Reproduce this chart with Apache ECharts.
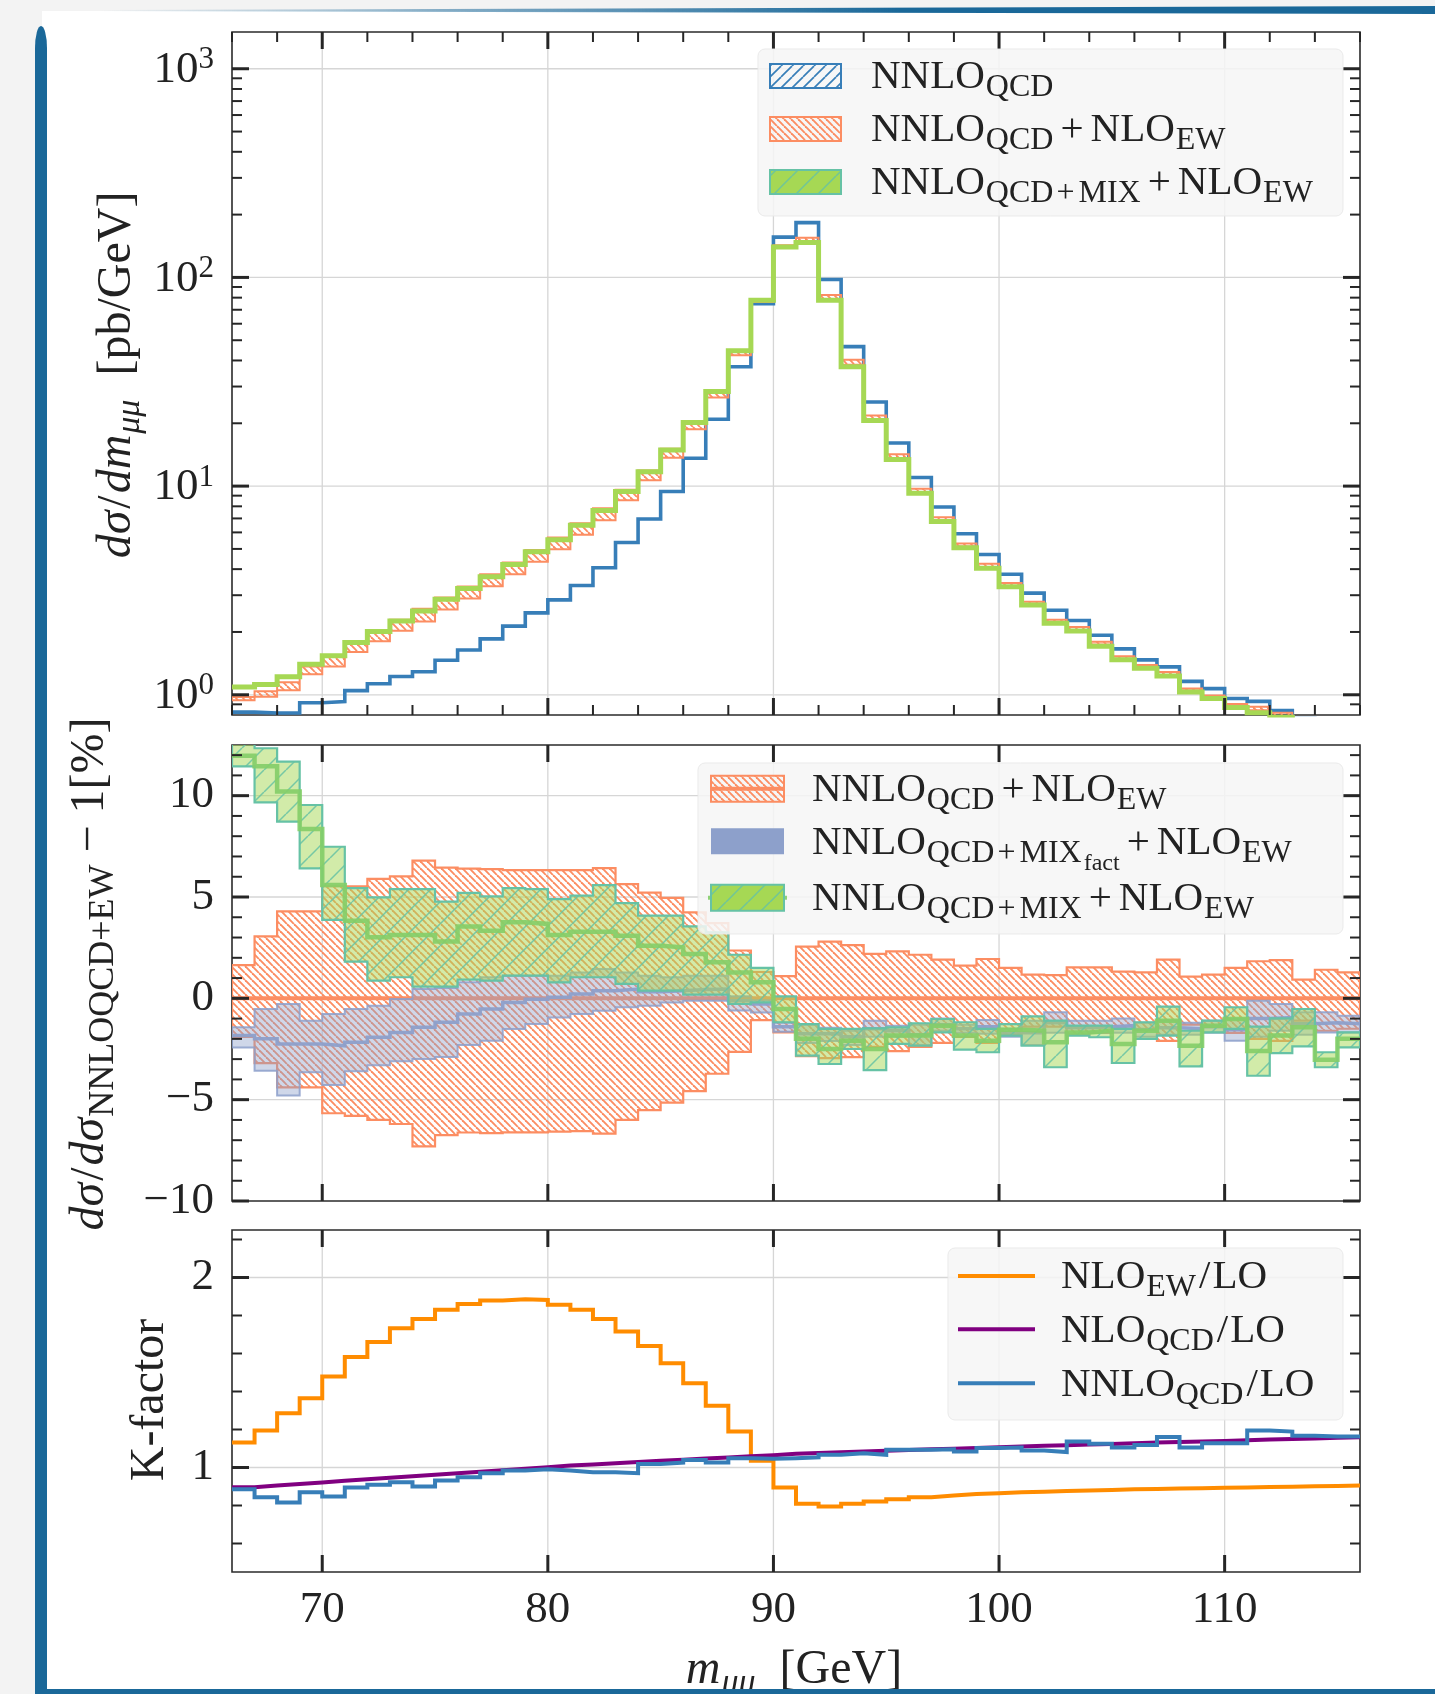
<!DOCTYPE html>
<html lang="en">
<head>
<meta charset="utf-8">
<title>Drell–Yan dimuon invariant-mass distribution</title>
<script src="https://cdn.jsdelivr.net/npm/echarts@6/dist/echarts.min.js"></script>
<style>
  html, body { margin: 0; padding: 0; background: #f3f3f3; }
  #page { position: relative; width: 1435px; height: 1694px; overflow: hidden; }
  #card { position: absolute; left: 42px; top: 11px; right: 0; bottom: 0; background: #ffffff; }
  #chart { position: absolute; left: 0; top: 0; width: 1435px; height: 1694px; }
  .deco { position: absolute; pointer-events: none; }
  #topRule { left: 100px; top: 5px; width: 1335px; height: 10px;
    background: linear-gradient(to right, rgba(26,104,153,0) 0%, rgba(26,104,153,0.5) 25%, #1a6899 60%, #1a6899 100%);
    clip-path: polygon(0 50%, 100% 10%, 100% 90%, 0 62%); }
  #leftRule { left: 35px; top: 26px; width: 12px; bottom: 0; background: #1a6899; border-radius: 6px 6px 0 0 / 22px 22px 0 0; }
  #bottomRule { left: 35px; right: 0; bottom: 0; height: 5px; background: #1a6899; }
</style>
</head>
<body>
<div id="page">
  <div id="card"></div>
  <div id="chart"></div>
  <div class="deco" id="topRule"></div>
  <div class="deco" id="leftRule"></div>
  <div class="deco" id="bottomRule"></div>
</div>
<script>
// ---------------------------------------------------------------------------
// Binning: 1 GeV bins in the dimuon invariant mass m_mumu [GeV]
// ---------------------------------------------------------------------------
const binEdges = [66, 67, 68, 69, 70, 71, 72, 73, 74, 75, 76, 77, 78, 79, 80, 81, 82,
  83, 84, 85, 86, 87, 88, 89, 90, 91, 92, 93, 94, 95, 96, 97, 98, 99, 100, 101, 102,
  103, 104, 105, 106, 107, 108, 109, 110, 111, 112, 113, 114, 115, 116];

// Top panel: dsigma/dm [pb/GeV]
const nnloQcd = [0.826, 0.818, 0.818, 0.916, 0.927, 1.047, 1.13, 1.224, 1.29, 1.464,
  1.64, 1.853, 2.133, 2.47, 2.85, 3.34, 4.06, 5.37, 6.95, 9.42,
  13.6, 20.9, 37.3, 74.8, 156, 183, 97.8, 46.6, 25.3, 16.1,
  11.0, 7.94, 5.91, 4.70, 3.78, 3.07, 2.54, 2.27, 1.93, 1.66,
  1.47, 1.36, 1.16, 1.07, 0.96, 0.93, 0.84, 0.77, 0.72, 0.68];
const nnloQcdEw = [0.96, 1.01, 1.10, 1.31, 1.45, 1.70, 1.92, 2.16, 2.42, 2.75,
  3.10, 3.55, 4.05, 4.65, 5.33, 6.25, 7.35, 9.10, 11.3, 14.4,
  19.6, 27.6, 43.5, 77.0, 141, 151, 80.2, 39.3, 21.3, 13.9,
  9.5, 6.96, 5.23, 4.16, 3.38, 2.76, 2.26, 2.08, 1.77, 1.51,
  1.37, 1.26, 1.06, 0.98, 0.89, 0.86, 0.805, 0.76, 0.72, 0.68];
const nnloMixEw = [1.09, 1.12, 1.22, 1.40, 1.54, 1.78, 2.01, 2.26, 2.52, 2.87,
  3.23, 3.68, 4.21, 4.84, 5.53, 6.50, 7.65, 9.43, 11.7, 14.9,
  20.2, 28.4, 44.5, 77.8, 140, 147, 77.8, 37.3, 20.6, 13.4,
  9.25, 6.77, 5.07, 4.04, 3.29, 2.69, 2.20, 2.02, 1.71, 1.47,
  1.34, 1.23, 1.03, 0.96, 0.87, 0.82, 0.78, 0.74, 0.70, 0.66];

// Middle panel: ratio to NNLO_QCD+NLO_EW central value, minus one [%]
const ewScaleUp = [1.64, 3.06, 4.29, 4.29, 5.53, 5.53, 5.89, 6.02, 6.79, 6.45,
  6.40, 6.38, 6.33, 6.33, 6.33, 6.33, 6.42, 5.64, 5.22, 4.96,
  4.24, 3.71, 2.36, 1.30, 1.10, 2.55, 2.80, 2.63, 2.19, 2.32,
  2.15, 1.91, 1.61, 1.94, 1.50, 1.17, 1.15, 1.53, 1.53, 1.32,
  1.28, 1.91, 1.07, 1.17, 1.50, 1.83, 1.89, 0.92, 1.41, 1.28];
const ewScaleDown = [-1.9, -3.2, -4.39, -4.39, -5.67, -5.80, -6.00, -6.20, -7.30, -6.75,
  -6.62, -6.65, -6.61, -6.61, -6.58, -6.55, -6.68, -6.00, -5.52, -5.15,
  -4.58, -3.72, -2.64, -1.08, -1.68, -2.85, -2.95, -2.90, -2.40, -2.60,
  -2.40, -2.20, -1.90, -2.20, -1.80, -1.40, -1.40, -1.80, -1.70, -1.50,
  -1.50, -2.10, -1.30, -1.40, -1.70, -2.00, -2.10, -1.10, -1.60, -1.50];
const mixFactUp = [-1.43, -0.53, -0.28, -1.10, -0.77, -0.53, -0.36, -0.03, 0.46, 0.51,
  0.79, 1.04, 1.12, 1.12, 1.12, 1.28, 1.45, 1.28, 1.12, 1.04,
  1.12, 1.12, 0.10, -0.10, -1.20, -1.30, -1.45, -1.60, -1.10, -1.35,
  -1.30, -1.00, -1.30, -1.07, -1.50, -1.10, -0.69, -1.10, -1.10, -1.00,
  -1.20, -1.10, -1.20, -1.10, -1.02, -0.12, -0.28, -0.69, -0.69, -0.86];
const mixFactDown = [-2.42, -3.57, -4.80, -3.65, -4.28, -3.60, -3.30, -3.10, -2.99, -2.90,
  -2.30, -2.09, -1.51, -1.27, -0.94, -0.77, -0.61, -0.44, -0.36, -0.20,
  -0.12, -0.12, -0.60, -0.70, -1.65, -2.20, -2.10, -2.30, -1.90, -1.90,
  -2.30, -1.60, -1.70, -1.75, -1.90, -2.30, -1.70, -1.80, -1.70, -1.70,
  -1.90, -1.80, -1.80, -1.70, -2.09, -1.90, -1.60, -1.80, -1.68, -1.68];
const mixFactCentral = [-1.84, -2.00, -2.25, -2.25, -2.34, -2.17, -1.92, -1.68, -1.43, -1.18,
  -0.77, -0.53, -0.20, -0.05, 0.05, 0.21, 0.38, 0.46, 0.33, 0.38,
  0.43, 0.46, -0.12, -0.28, -1.40, -1.75, -1.75, -1.90, -1.50, -1.60,
  -1.80, -1.30, -1.50, -1.40, -1.70, -1.70, -1.20, -1.45, -1.40, -1.35,
  -1.55, -1.45, -1.50, -1.40, -1.55, -1.00, -0.95, -1.25, -1.20, -1.25];
const mixUp = [13.3, 12.34, 11.68, 9.54, 7.48, 5.44, 4.98, 5.39, 5.39, 4.77,
  5.20, 5.03, 5.44, 5.39, 4.90, 5.07, 5.59, 4.70, 4.08, 4.08,
  3.55, 3.26, 2.15, 1.50, 0.10, -1.27, -1.51, -1.51, -1.48, -1.43,
  -1.23, -1.02, -1.18, -1.51, -1.27, -0.89, -1.10, -1.35, -1.35, -1.51,
  -1.18, -0.41, -1.60, -1.10, -0.44, -1.40, -0.99, -0.53, -2.66, -1.68];
const mixDown = [11.45, 9.67, 8.72, 6.41, 3.87, 1.81, 0.87, 1.04, 0.58, 0.58,
  0.92, 0.87, 1.12, 1.12, 0.79, 1.04, 1.04, 0.71, 0.38, 0.38,
  0.18, 0.18, -0.28, -0.20, -1.18, -2.83, -3.24, -2.50, -3.54, -2.25,
  -2.34, -1.68, -2.53, -2.66, -1.84, -2.34, -3.40, -1.84, -1.92, -3.19,
  -2.00, -1.84, -3.36, -1.68, -1.51, -3.82, -2.70, -2.37, -3.40, -2.42];
const mixCentral = [11.97, 11.45, 10.20, 8.36, 5.59, 3.83, 3.01, 3.12, 3.12, 2.80,
  3.55, 3.34, 3.75, 3.67, 3.12, 3.29, 3.29, 3.09, 2.60, 2.52,
  2.19, 1.78, 1.28, 0.79, -0.53, -2.00, -2.50, -2.09, -2.50, -1.84,
  -1.84, -1.35, -1.84, -2.09, -1.55, -1.60, -2.17, -1.68, -1.60, -2.25,
  -1.60, -1.10, -2.34, -1.35, -1.02, -2.60, -1.84, -1.43, -3.03, -2.00];

// Bottom panel: K-factors
const kEw = [1.132, 1.195, 1.286, 1.365, 1.479, 1.581, 1.660, 1.733, 1.782, 1.830,
  1.860, 1.879, 1.886, 1.882, 1.856, 1.830, 1.781, 1.716, 1.640, 1.549,
  1.444, 1.325, 1.189, 1.035, 0.895, 0.809, 0.795, 0.809, 0.821, 0.833,
  0.844, 0.853, 0.860, 0.865, 0.870, 0.873, 0.876, 0.879, 0.882, 0.885,
  0.887, 0.889, 0.891, 0.893, 0.895, 0.897, 0.899, 0.901, 0.903, 0.905];
const kQcd = [0.896, 0.905, 0.913, 0.921, 0.930, 0.938, 0.946, 0.954, 0.962, 0.970,
  0.977, 0.985, 0.993, 1.002, 1.010, 1.016, 1.022, 1.029, 1.035, 1.041,
  1.047, 1.053, 1.059, 1.065, 1.072, 1.076, 1.080, 1.084, 1.088, 1.092,
  1.096, 1.099, 1.103, 1.106, 1.110, 1.114, 1.117, 1.121, 1.124, 1.127,
  1.131, 1.134, 1.137, 1.140, 1.143, 1.147, 1.150, 1.153, 1.156, 1.159];
const kNnlo = [0.886, 0.844, 0.816, 0.870, 0.847, 0.895, 0.909, 0.923, 0.900, 0.932,
  0.949, 0.970, 0.984, 0.991, 0.984, 0.975, 0.975, 0.970, 1.018, 1.026,
  1.040, 1.026, 1.049, 1.046, 1.049, 1.054, 1.067, 1.075, 1.067, 1.093,
  1.093, 1.096, 1.084, 1.102, 1.105, 1.089, 1.081, 1.137, 1.125, 1.105,
  1.119, 1.160, 1.105, 1.128, 1.128, 1.195, 1.189, 1.167, 1.163, 1.163];

// Tick positions and labels
const xTickLabels = [70, 80, 90, 100, 110];
const xMinorTicks = [66, 68, 72, 74, 76, 78, 82, 84, 86, 88, 92, 94, 96, 98, 102, 104, 106, 108, 112, 114, 116];
const logTickLabels = [1, 10, 100, 1000];
const logMinorTicks = [0.9, 2, 3, 4, 5, 6, 7, 8, 9, 20, 30, 40, 50, 60, 70, 80, 90, 200, 300, 400, 500, 600, 700, 800, 900];
const ratioTickLabels = [-10, -5, 0, 5, 10];
const ratioMinorTicks = [-9, -8, -7, -6, -4, -3, -2, -1, 1, 2, 3, 4, 6, 7, 8, 9, 11, 12];
const kTickLabels = [1, 2];
const kMinorTicks = [0.6, 0.8, 1.2, 1.4, 1.6, 1.8, 2.2];

// Axis ranges
const X_MIN = binEdges[0], X_MAX = binEdges[binEdges.length - 1];
const LOG_MIN = 0.8, LOG_MAX = 1500;
const RATIO_MIN = -10, RATIO_MAX = 12.5;
const K_MIN = 0.45, K_MAX = 2.25;

// ---------------------------------------------------------------------------
// Styling
// ---------------------------------------------------------------------------
const FONT = "'Liberation Serif', 'DejaVu Serif', 'Times New Roman', serif";
const INK = '#222222';
const COL = {
  qcd: '#377eb8', ew: '#fc8d62', mix: '#a6d854', mixEdge: '#66c2a5', mixLine: 'rgba(132,206,104,0.9)',
  fact: '#8da0cb', kEw: '#ff8c00', kQcd: '#800080', kNnlo: '#377eb8',
  gridLine: '#d6d6d6', tick: '#262626'
};

// Hatch tiles used as repeating fill patterns
function hatchTile(size, color, width, forward) {
  const c = document.createElement('canvas');
  c.width = size; c.height = size;
  const g = c.getContext('2d');
  g.strokeStyle = color; g.lineWidth = width;
  for (const k of [-size, 0, size]) {
    g.beginPath();
    if (forward) { g.moveTo(k, size); g.lineTo(k + size, 0); }
    else { g.moveTo(k, 0); g.lineTo(k + size, size); }
    g.stroke();
  }
  return c;
}
const ewHatch = { image: hatchTile(7, COL.ew, 1.9, false), repeat: 'repeat' };
const mixHatch = { image: hatchTile(22, 'rgba(102,194,165,0.85)', 1.5, true), repeat: 'repeat' };
const qcdHatch = { image: hatchTile(11, COL.qcd, 1.7, true), repeat: 'repeat' };

// Scale-uncertainty envelope of NNLO_QCD+NLO_EW in the top panel
const ewBandHi = nnloQcdEw.map((v, i) => v * (1 + ewScaleUp[i] / 100));
const ewBandLo = nnloQcdEw.map((v, i) => v * (1 + ewScaleDown[i] / 100));

// ---------------------------------------------------------------------------
// Series builders
// ---------------------------------------------------------------------------
function stepData(vals) {
  const d = vals.map((v, i) => [binEdges[i], v]);
  d.push([binEdges[vals.length], vals[vals.length - 1]]);
  return d;
}

function stepLine(name, gi, vals, color, width, z) {
  return {
    name, type: 'line', xAxisIndex: gi, yAxisIndex: gi, data: stepData(vals), step: 'end',
    symbol: 'none', showSymbol: false, clip: true, silent: true, animation: false, z,
    lineStyle: { color, width, join: 'miter' }, itemStyle: { color }
  };
}

function stepPolygon(api, lo, hi) {
  const pts = [];
  for (let i = 0; i < hi.length; i++) {
    pts.push(api.coord([binEdges[i], hi[i]]), api.coord([binEdges[i + 1], hi[i]]));
  }
  for (let i = lo.length - 1; i >= 0; i--) {
    pts.push(api.coord([binEdges[i + 1], lo[i]]), api.coord([binEdges[i], lo[i]]));
  }
  return pts;
}

function bandSeries(name, gi, lo, hi, layers, z) {
  return {
    name, type: 'custom', coordinateSystem: 'cartesian2d', xAxisIndex: gi, yAxisIndex: gi,
    clip: true, silent: true, animation: false, z,
    data: [[binEdges[0], hi[0]]],
    renderItem: (params, api) => {
      const points = stepPolygon(api, lo, hi);
      return { type: 'group', children: layers.map(style => ({ type: 'polygon', shape: { points }, style })) };
    }
  };
}

function seg(x1, y1, x2, y2, stroke, lineWidth) {
  return { type: 'line', shape: { x1, y1, x2, y2 }, style: { stroke, lineWidth } };
}

function gridSeries(gi, yMin, yMax, yLines) {
  return {
    type: 'custom', coordinateSystem: 'cartesian2d', xAxisIndex: gi, yAxisIndex: gi,
    silent: true, animation: false, z: 1, data: [[X_MIN, yLines[0]]],
    renderItem: (params, api) => {
      const ch = [];
      for (const x of xTickLabels) {
        const a = api.coord([x, yMin]), b = api.coord([x, yMax]);
        ch.push(seg(a[0], a[1], b[0], b[1], COL.gridLine, 1.3));
      }
      for (const y of yLines) {
        const a = api.coord([X_MIN, y]), b = api.coord([X_MAX, y]);
        ch.push(seg(a[0], a[1], b[0], b[1], COL.gridLine, 1.3));
      }
      return { type: 'group', children: ch };
    }
  };
}

function tickSeries(gi, yMin, yMax, yMajor, yMinor, xMinor) {
  const MAJ = 17, MIN = 10;
  return {
    type: 'custom', coordinateSystem: 'cartesian2d', xAxisIndex: gi, yAxisIndex: gi,
    silent: true, animation: false, z: 30, data: [[X_MIN, yMajor[0]]],
    renderItem: (params, api) => {
      const ch = [];
      const yTicks = (vals, len, w) => vals.forEach(v => {
        const a = api.coord([X_MIN, v]), b = api.coord([X_MAX, v]);
        ch.push(seg(a[0], a[1], a[0] + len, a[1], COL.tick, w));
        ch.push(seg(b[0], b[1], b[0] - len, b[1], COL.tick, w));
      });
      const xTicks = (vals, len, w) => vals.forEach(v => {
        const a = api.coord([v, yMin]), b = api.coord([v, yMax]);
        ch.push(seg(a[0], a[1], a[0], a[1] - len, COL.tick, w));
        ch.push(seg(b[0], b[1], b[0], b[1] + len, COL.tick, w));
      });
      yTicks(yMajor, MAJ, 3);
      yTicks(yMinor, MIN, 2);
      xTicks(xTickLabels, MAJ, 3);
      if (xMinor) xTicks(xMinor, MIN, 2);
      return { type: 'group', children: ch };
    }
  };
}

// ---------------------------------------------------------------------------
// Text helpers (math-style labels with sub/superscripts)
// ---------------------------------------------------------------------------
const legendRich = {
  m: { fontFamily: FONT, fontSize: 41, fill: INK, verticalAlign: 'top' },
  p: { fontFamily: FONT, fontSize: 41, fill: INK, verticalAlign: 'top', padding: [0, 7, 0, 7] },
  s: { fontFamily: FONT, fontSize: 32, fill: INK, verticalAlign: 'top', padding: [15, 0, 0, 1] },
  sp: { fontFamily: FONT, fontSize: 32, fill: INK, verticalAlign: 'top', padding: [15, 3, 0, 3] },
  ss: { fontFamily: FONT, fontSize: 24, fill: INK, verticalAlign: 'top', padding: [29, 0, 0, 2] },
  sl: { fontFamily: FONT, fontSize: 41, fill: INK, verticalAlign: 'top', padding: [0, 2, 0, 3] }
};
const titleRich = {
  i: { fontFamily: FONT, fontSize: 48, fontStyle: 'italic', fill: INK, verticalAlign: 'top' },
  r: { fontFamily: FONT, fontSize: 48, fill: INK, verticalAlign: 'top' },
  sl: { fontFamily: FONT, fontSize: 48, fill: INK, verticalAlign: 'top', padding: [0, 2, 0, 2] },
  si: { fontFamily: FONT, fontSize: 34, fontStyle: 'italic', fill: INK, verticalAlign: 'top', padding: [20, 0, 0, 1] },
  s: { fontFamily: FONT, fontSize: 36, fill: INK, verticalAlign: 'top', padding: [19, 0, 0, 1] }
};

function textEl(x, y, text, rich, opts) {
  return Object.assign({
    type: 'text', x, y, z: 100, silent: true,
    style: { text, rich, align: 'left', verticalAlign: 'top' }
  }, opts || {});
}

function legendBox(x, y, w, h) {
  return {
    type: 'rect', z: 90, silent: true, shape: { x, y, width: w, height: h, r: 7 },
    style: { fill: 'rgba(246,246,246,0.86)', stroke: 'rgba(232,232,232,0.9)', lineWidth: 1 }
  };
}
function patch(x, y, w, h, fill, stroke) {
  return {
    type: 'rect', z: 95, silent: true, shape: { x, y, width: w, height: h },
    style: { fill, stroke: stroke || 'none', lineWidth: 2 }
  };
}
function legendLine(x1, x2, y, color, w) {
  return { type: 'line', z: 94, silent: true, shape: { x1, y1: y, x2, y2: y }, style: { stroke: color, lineWidth: w } };
}

// Legend geometry
const L1 = { box: [758, 49, 585, 167], px: 770, pw: 71, ph: 24, tx: 871, rows: [76, 129, 182] };
const L2 = { box: [698, 763, 645, 171], px: 711, pw: 73, ph: 26, tx: 812, rows: [788.7, 841.3, 897.8] };
const L3 = { box: [948, 1248, 395, 172], lx: [958, 1035], tx: 1061, rows: [1276, 1329.3, 1383.3] };
const GLYPH_OFF = 19;

const labelQcd = '{m|NNLO}{s|QCD}';
const labelQcdEw = '{m|NNLO}{s|QCD}{p|+}{m|NLO}{s|EW}';
const labelMix = '{m|NNLO}{s|QCD}{sp|+}{s|MIX}{p|+}{m|NLO}{s|EW}';
const labelMixFact = '{m|NNLO}{s|QCD}{sp|+}{s|MIX}{ss|fact}{p|+}{m|NLO}{s|EW}';

const graphics = [
  // top-panel legend
  legendBox(...L1.box),
  patch(L1.px, L1.rows[0] - L1.ph / 2, L1.pw, L1.ph, qcdHatch, COL.qcd),
  patch(L1.px, L1.rows[1] - L1.ph / 2, L1.pw, L1.ph, ewHatch, COL.ew),
  patch(L1.px, L1.rows[2] - L1.ph / 2, L1.pw, L1.ph, COL.mix, null),
  patch(L1.px, L1.rows[2] - L1.ph / 2, L1.pw, L1.ph, mixHatch, COL.mixEdge),
  textEl(L1.tx, L1.rows[0] - GLYPH_OFF, labelQcd, legendRich),
  textEl(L1.tx, L1.rows[1] - GLYPH_OFF, labelQcdEw, legendRich),
  textEl(L1.tx, L1.rows[2] - GLYPH_OFF, labelMix, legendRich),

  // ratio-panel legend
  legendBox(...L2.box),
  patch(L2.px, L2.rows[0] - L2.ph / 2, L2.pw, L2.ph, ewHatch, COL.ew),
  legendLine(L2.px, L2.px + L2.pw, L2.rows[0], COL.ew, 4),
  patch(L2.px, L2.rows[1] - L2.ph / 2, L2.pw, L2.ph, COL.fact, null),
  legendLine(L2.px - 3, L2.px + L2.pw + 3, L2.rows[2], COL.mixLine, 4),
  patch(L2.px, L2.rows[2] - L2.ph / 2, L2.pw, L2.ph, COL.mix, null),
  patch(L2.px, L2.rows[2] - L2.ph / 2, L2.pw, L2.ph, mixHatch, COL.mixEdge),
  textEl(L2.tx, L2.rows[0] - GLYPH_OFF, labelQcdEw, legendRich),
  textEl(L2.tx, L2.rows[1] - GLYPH_OFF, labelMixFact, legendRich),
  textEl(L2.tx, L2.rows[2] - GLYPH_OFF, labelMix, legendRich),

  // K-factor legend
  legendBox(...L3.box),
  legendLine(L3.lx[0], L3.lx[1], L3.rows[0], COL.kEw, 4),
  legendLine(L3.lx[0], L3.lx[1], L3.rows[1], COL.kQcd, 4),
  legendLine(L3.lx[0], L3.lx[1], L3.rows[2], COL.kNnlo, 4),
  textEl(L3.tx, L3.rows[0] - GLYPH_OFF, '{m|NLO}{s|EW}{sl|/}{m|LO}', legendRich),
  textEl(L3.tx, L3.rows[1] - GLYPH_OFF, '{m|NLO}{s|QCD}{sl|/}{m|LO}', legendRich),
  textEl(L3.tx, L3.rows[2] - GLYPH_OFF, '{m|NNLO}{s|QCD}{sl|/}{m|LO}', legendRich),

  // axis titles
  {
    type: 'text', x: 120, y: 375, rotation: Math.PI / 2, z: 100, silent: true,
    style: { text: '{i|dσ}{sl|/}{i|dm}{si|μμ}{r|  [pb/GeV]}', rich: titleRich, align: 'center', verticalAlign: 'middle' }
  },
  {
    type: 'text', x: 94, y: 974, rotation: Math.PI / 2, z: 100, silent: true,
    style: { text: '{i|dσ}{sl|/}{i|dσ}{s|NNLOQCD+EW}{r| − 1[%]}', rich: titleRich, align: 'center', verticalAlign: 'middle' }
  },
  {
    type: 'text', x: 150, y: 1400, rotation: Math.PI / 2, z: 100, silent: true,
    style: { text: '{r|K-factor}', rich: titleRich, align: 'center', verticalAlign: 'middle' }
  },
  {
    type: 'text', x: 794, y: 1646, z: 100, silent: true,
    style: { text: '{i|m}{si|μμ}{r|  [GeV]}', rich: titleRich, align: 'center', verticalAlign: 'top' }
  }
];

// ---------------------------------------------------------------------------
// Axes
// ---------------------------------------------------------------------------
const grids = [
  { left: 232, top: 32, width: 1128, height: 683 },
  { left: 232, top: 745, width: 1128, height: 456 },
  { left: 232, top: 1230, width: 1128, height: 342 }
].map(g => Object.assign(g, {
  show: true, borderColor: '#2b2b2b', borderWidth: 1.6, backgroundColor: 'transparent',
  containLabel: false, outerBoundsMode: 'none'
}));

const hidden = { axisLine: { show: false }, axisTick: { show: false }, splitLine: { show: false }, minorTick: { show: false }, minorSplitLine: { show: false } };
const near = (a, b) => Math.abs(a - b) < 1e-6;

const xAxes = [0, 1, 2].map(i => Object.assign({
  type: 'value', gridIndex: i, min: X_MIN, max: X_MAX, interval: 2,
  axisLabel: i === 2 ? {
    show: true, margin: 16, fontFamily: FONT, fontSize: 45, color: INK,
    formatter: v => (xTickLabels.some(t => near(t, v)) ? String(Math.round(v)) : '')
  } : { show: false }
}, hidden));

const yAxes = [
  Object.assign({
    type: 'log', gridIndex: 0, logBase: 10, min: LOG_MIN, max: LOG_MAX,
    axisLabel: {
      margin: 18,
      formatter: v => {
        const t = logTickLabels.find(t => Math.abs(v - t) / t < 1e-6);
        return t ? '{b|10}{e|' + Math.round(Math.log10(t)) + '}' : '';
      },
      rich: {
        b: { fontFamily: FONT, fontSize: 45, color: INK, verticalAlign: 'top', padding: [3, 0, 0, 0] },
        e: { fontFamily: FONT, fontSize: 31, color: INK, verticalAlign: 'top' }
      }
    }
  }, hidden),
  Object.assign({
    type: 'value', gridIndex: 1, min: RATIO_MIN, max: RATIO_MAX, interval: 5,
    axisLabel: {
      margin: 18, fontFamily: FONT, fontSize: 45, color: INK,
      formatter: v => {
        const t = ratioTickLabels.find(t => near(t, v));
        if (t === undefined) return '';
        return t < 0 ? '−' + Math.abs(t) : String(t);
      }
    }
  }, hidden),
  Object.assign({
    type: 'value', gridIndex: 2, min: K_MIN, max: K_MAX, interval: 0.05,
    axisLabel: {
      margin: 18, fontFamily: FONT, fontSize: 45, color: INK,
      formatter: v => {
        const t = kTickLabels.find(t => near(t, v));
        return t === undefined ? '' : String(t);
      }
    }
  }, hidden)
];

// ---------------------------------------------------------------------------
// Series
// ---------------------------------------------------------------------------
const series = [
  // top panel: absolute cross sections
  gridSeries(0, LOG_MIN, LOG_MAX, logTickLabels),
  stepLine('NNLO QCD', 0, nnloQcd, COL.qcd, 3.6, 3),
  bandSeries('NNLO QCD + NLO EW', 0, ewBandLo, ewBandHi, [
    { fill: ewHatch, stroke: 'none' },
    { fill: 'none', stroke: COL.ew, lineWidth: 2 }
  ], 4),
  stepLine('NNLO QCD+MIX + NLO EW', 0, nnloMixEw, COL.mix, 5, 5),
  tickSeries(0, LOG_MIN, LOG_MAX, logTickLabels, logMinorTicks, xMinorTicks),

  // middle panel: ratios
  gridSeries(1, RATIO_MIN, RATIO_MAX, [-5, 0, 5, 10]),
  bandSeries('NNLO QCD + NLO EW (scale band)', 1, ewScaleDown, ewScaleUp, [
    { fill: ewHatch, stroke: 'none' },
    { fill: 'none', stroke: COL.ew, lineWidth: 2.2 }
  ], 3),
  {
    name: 'NNLO QCD + NLO EW (central)', type: 'line', xAxisIndex: 1, yAxisIndex: 1,
    data: [[X_MIN, 0], [X_MAX, 0]], symbol: 'none', silent: true, animation: false, z: 4,
    lineStyle: { color: COL.ew, width: 4 }
  },
  bandSeries('NNLO QCD+MIXfact + NLO EW (scale band)', 1, mixFactDown, mixFactUp, [
    { fill: 'rgba(141,160,203,0.42)', stroke: 'none' },
    { fill: 'none', stroke: 'rgba(141,160,203,0.85)', lineWidth: 2 }
  ], 5),
  stepLine('NNLO QCD+MIXfact + NLO EW (central)', 1, mixFactCentral, 'rgba(141,160,203,0.95)', 3.5, 6),
  bandSeries('NNLO QCD+MIX + NLO EW (scale band)', 1, mixDown, mixUp, [
    { fill: 'rgba(166,216,84,0.5)', stroke: 'none' },
    { fill: mixHatch, stroke: 'none' },
    { fill: 'none', stroke: COL.mixEdge, lineWidth: 2.2 }
  ], 7),
  stepLine('NNLO QCD+MIX + NLO EW (central)', 1, mixCentral, COL.mixLine, 4.5, 8),
  tickSeries(1, RATIO_MIN, RATIO_MAX, ratioTickLabels, ratioMinorTicks, null),

  // bottom panel: K-factors
  gridSeries(2, K_MIN, K_MAX, kTickLabels),
  stepLine('NLO EW / LO', 2, kEw, COL.kEw, 4, 3),
  stepLine('NLO QCD / LO', 2, kQcd, COL.kQcd, 4, 4),
  stepLine('NNLO QCD / LO', 2, kNnlo, COL.kNnlo, 4, 5),
  tickSeries(2, K_MIN, K_MAX, kTickLabels, kMinorTicks, null)
];

const chart = echarts.init(document.getElementById('chart'), null, { renderer: 'canvas', width: 1435, height: 1694 });
chart.setOption({
  animation: false,
  backgroundColor: 'transparent',
  textStyle: { fontFamily: FONT },
  grid: grids,
  xAxis: xAxes,
  yAxis: yAxes,
  series,
  graphic: { elements: graphics }
});
</script>
</body>
</html>
